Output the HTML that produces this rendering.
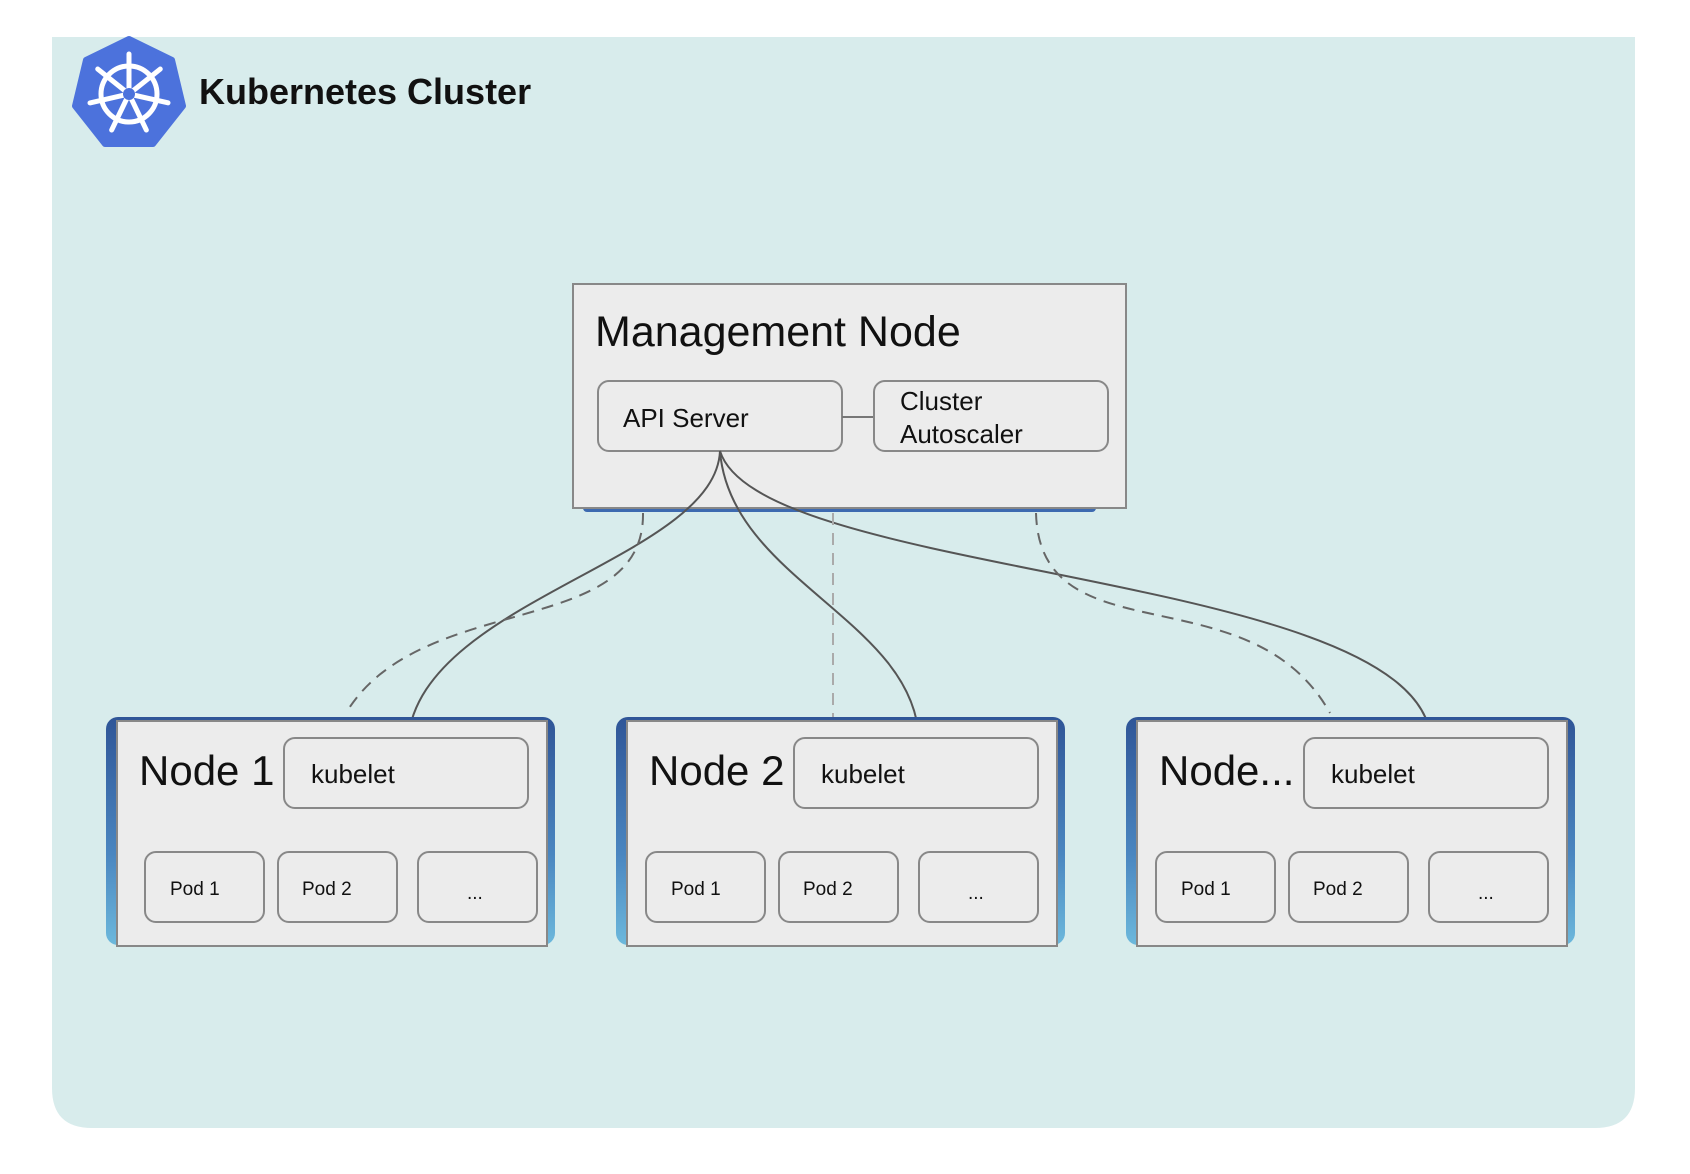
<!DOCTYPE html>
<html><head><meta charset="utf-8"><style>
body{margin:0;background:#fff;}
svg{display:block}
text{font-family:"Liberation Sans",Arial,sans-serif;fill:#111}
</style></head><body>
<svg width="1690" height="1174" viewBox="0 0 1690 1174" xmlns="http://www.w3.org/2000/svg">
<defs>
<linearGradient id="bl" x1="0" y1="0" x2="0" y2="1">
<stop offset="0" stop-color="#2f5597"/><stop offset="0.6" stop-color="#4a86c0"/><stop offset="1" stop-color="#6cb8dc"/>
</linearGradient>
</defs>
<path d="M52 37 H1635 V1088 Q1635 1128 1595 1128 H92 Q52 1128 52 1088 Z" fill="#d8ecec"/>
<!-- logo -->
<g transform="translate(129,94)">
<polygon points="0,-55 43,-34 54,12 24,50 -24,50 -54,12 -43,-34" fill="#4c72dc" stroke="#4c72dc" stroke-width="6" stroke-linejoin="round"/>
<g stroke="#fff" stroke-width="5" fill="none" stroke-linecap="round">
<circle r="28"/>
<g id="sp"><line x1="0" y1="0" x2="0" y2="-40"/></g>
<use href="#sp" transform="rotate(51.4)"/><use href="#sp" transform="rotate(102.8)"/><use href="#sp" transform="rotate(154.3)"/><use href="#sp" transform="rotate(205.7)"/><use href="#sp" transform="rotate(257.1)"/><use href="#sp" transform="rotate(308.6)"/>
</g>
<circle r="6" fill="#4c72dc"/>
</g>
<text x="199" y="104" font-size="36" font-weight="bold">Kubernetes Cluster</text>

<!-- management node -->
<rect x="583" y="500" width="513" height="12" rx="4" fill="#3d6ab0"/>
<rect x="573" y="284" width="553" height="224" fill="#ececec" stroke="#888" stroke-width="2"/>
<text x="595" y="346" font-size="43">Management Node</text>
<rect x="598" y="381" width="244" height="70" rx="11" fill="#ececec" stroke="#888" stroke-width="2"/>
<text x="623" y="427" font-size="26">API Server</text>
<line x1="842" y1="417" x2="874" y2="417" stroke="#777" stroke-width="2"/>
<rect x="874" y="381" width="234" height="70" rx="11" fill="#ececec" stroke="#888" stroke-width="2"/>
<text x="900" y="410" font-size="26">Cluster</text>
<text x="900" y="443" font-size="26">Autoscaler</text>

<!-- connectors -->
<g fill="none" stroke-width="2">
<path d="M720 451 C 715 560, 420 600, 408 740" stroke="#555"/>
<path d="M720 451 C 730 580, 915 620, 919 740" stroke="#555"/>
<path d="M720 451 C 760 580, 1420 570, 1431 740" stroke="#555"/>
<path d="M643 513 C 645 640, 420 590, 346 713" stroke="#666" stroke-dasharray="12,8"/>
<path d="M1036 513 C 1040 660, 1250 570, 1330 713" stroke="#666" stroke-dasharray="12,8"/>
<line x1="833" y1="513" x2="833" y2="718" stroke="#aaa" stroke-dasharray="12,8"/>
</g>

<!-- nodes -->
<g id="nb">
<rect x="106" y="717" width="449" height="228" rx="12" fill="url(#bl)"/>
<rect x="117" y="721" width="430" height="225" fill="#ececec" stroke="#888" stroke-width="2"/>
<rect x="284" y="738" width="244" height="70" rx="11" fill="#ececec" stroke="#888" stroke-width="2"/>
<text x="311" y="783" font-size="26">kubelet</text>
</g>
<g id="pods">
<rect x="145" y="852" width="119" height="70" rx="11" fill="#ececec" stroke="#888" stroke-width="2"/>
<text x="170" y="895" font-size="19">Pod 1</text>
<rect x="278" y="852" width="119" height="70" rx="11" fill="#ececec" stroke="#888" stroke-width="2"/>
<text x="302" y="895" font-size="19">Pod 2</text>
<rect x="418" y="852" width="119" height="70" rx="11" fill="#ececec" stroke="#888" stroke-width="2"/>
<text x="467" y="899" font-size="19">...</text>
</g>
<use href="#nb" transform="translate(510,0)"/>
<use href="#nb" transform="translate(1020,0)"/>
<use href="#pods" transform="translate(501,0)"/>
<use href="#pods" transform="translate(1011,0)"/>
<text x="139" y="785" font-size="42">Node 1</text>
<text x="649" y="785" font-size="42">Node 2</text>
<text x="1159" y="785" font-size="42">Node...</text>
</svg>
</body></html>
